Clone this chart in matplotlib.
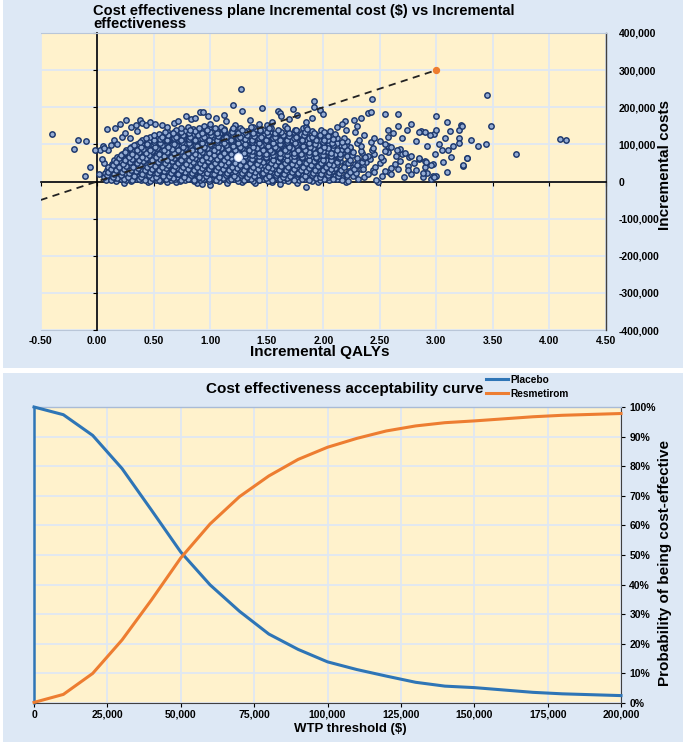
import matplotlib
matplotlib.use('Agg')
import matplotlib.pyplot as plt
from matplotlib.patches import Rectangle
from matplotlib.ticker import FuncFormatter
import numpy as np

plt.rcParams['font.family'] = ['Liberation Sans', 'DejaVu Sans']

# ---------------- data: PSA scatter (incremental QALY, incremental cost in $1000) ----------------
psa_below_zero = "0.24,-4 0.45,-1 0.62,-2 0.70,-1 0.88,-5 0.93,-6 1.00,-10 1.15,-3 1.28,-1 1.40,-3 1.55,-2 1.62,-7 1.77,-4 1.85,-15 1.95,-2 2.20,-1 2.48,-2"

psa_core_low = """
0.08,3 0.13,6 0.17,2 0.21,7 0.26,4 0.30,1 0.34,6 0.39,3 0.43,8 0.47,2 0.52,5 0.56,1 0.60,7 0.65,3 0.69,6 0.73,2 0.78,5 0.82,8 0.86,1 0.91,4 0.95,7 0.99,2 1.04,5 1.08,1 1.12,6 1.17,3 1.21,8 1.25,2 1.30,5 1.34,7 1.38,1 1.43,4 1.47,6 1.51,2 1.56,5 1.60,8 1.65,3 1.69,1 1.74,6 1.79,3 1.84,7 1.90,2 1.97,5 2.05,3 2.12,6 2.22,2 2.31,8 2.47,4 2.95,7
0.06,12 0.11,15 0.15,10 0.19,16 0.24,11 0.28,14 0.32,9 0.37,17 0.41,12 0.45,15 0.50,10 0.54,16 0.58,13 0.63,9 0.67,15 0.71,11 0.76,17 0.80,12 0.84,14 0.89,10 0.93,16 0.97,13 1.02,9 1.06,15 1.10,11 1.15,17 1.19,12 1.23,14 1.28,10 1.32,16 1.36,13 1.41,9 1.45,15 1.49,11 1.54,17 1.58,12 1.63,14 1.67,10 1.72,16 1.76,13 1.81,9 1.86,15 1.92,11 1.98,16 2.04,12 2.10,15 2.17,10 2.26,14 2.36,12 2.52,16 2.71,13 2.88,11 3.00,14
0.07,22 0.12,19 0.16,25 0.20,20 0.25,24 0.29,18 0.33,23 0.38,26 0.42,20 0.46,24 0.51,19 0.55,25 0.59,21 0.64,18 0.68,24 0.72,20 0.77,26 0.81,22 0.85,19 0.90,25 0.94,21 0.98,23 1.03,18 1.07,24 1.11,20 1.16,26 1.20,22 1.24,19 1.29,25 1.33,21 1.37,23 1.42,18 1.46,24 1.50,20 1.55,26 1.59,22 1.64,19 1.68,25 1.73,21 1.77,23 1.82,18 1.87,24 1.93,20 1.99,25 2.06,21 2.13,24 2.20,19 2.29,23 2.40,21 2.58,25 2.78,20 2.92,24
0.09,30 0.14,27 0.18,33 0.22,29 0.27,35 0.31,28 0.35,32 0.40,30 0.44,34 0.48,27 0.53,31 0.57,35 0.61,29 0.66,33 0.70,27 0.74,31 0.79,35 0.83,30 0.87,28 0.92,34 0.96,29 1.00,32 1.05,27 1.09,35 1.13,30 1.18,33 1.22,28 1.26,31 1.31,35 1.35,29 1.39,32 1.44,27 1.48,34 1.52,30 1.57,33 1.61,28 1.66,31 1.70,35 1.75,29 1.79,32 1.84,27 1.89,34 1.95,30 2.01,33 2.08,28 2.15,32 2.23,29 2.33,34 2.44,31 2.55,28 2.66,33 2.82,30
0.10,40 0.16,37 0.20,43 0.24,38 0.29,44 0.33,36 0.37,41 0.42,39 0.46,43 0.50,37 0.55,40 0.59,44 0.63,38 0.68,42 0.72,36 0.76,40 0.81,44 0.85,39 0.89,37 0.94,43 0.98,38 1.02,41 1.07,36 1.11,44 1.15,39 1.20,42 1.24,37 1.28,40 1.33,44 1.37,38 1.41,41 1.46,36 1.50,43 1.54,39 1.59,42 1.63,37 1.68,40 1.72,44 1.77,38 1.81,41 1.86,36 1.91,43 1.97,39 2.03,42 2.10,37 2.18,41 2.26,38 2.35,43 2.46,40 2.60,37 2.75,42 2.90,39
"""

psa_core_mid = """
0.13,48 0.18,45 0.22,51 0.26,47 0.31,53 0.35,46 0.39,50 0.44,48 0.48,52 0.52,45 0.57,49 0.61,53 0.65,47 0.70,51 0.74,45 0.78,49 0.83,53 0.87,48 0.91,46 0.96,52 1.00,47 1.04,50 1.09,45 1.13,53 1.17,48 1.22,51 1.26,46 1.30,49 1.35,53 1.39,47 1.43,50 1.48,45 1.52,52 1.56,48 1.61,51 1.65,46 1.70,49 1.74,53 1.79,47 1.83,50 1.88,45 1.93,52 1.99,48 2.05,51 2.12,46 2.20,50 2.28,47 2.38,52 2.50,49 2.63,46 2.80,51 2.97,48
0.15,57 0.21,55 0.25,60 0.29,56 0.34,62 0.38,54 0.42,59 0.47,57 0.51,61 0.55,54 0.60,58 0.64,62 0.68,56 0.73,60 0.77,54 0.81,58 0.86,62 0.90,57 0.94,55 0.99,61 1.03,56 1.07,59 1.12,54 1.16,62 1.20,57 1.29,55 1.33,62 1.37,56 1.42,60 1.46,54 1.50,58 1.55,61 1.59,56 1.64,60 1.68,55 1.73,59 1.77,62 1.82,56 1.86,60 1.91,54 1.96,61 2.02,57 2.08,60 2.15,55 2.23,59 2.31,56 2.41,61 2.53,58 2.68,55 2.85,60
0.18,66 0.23,63 0.27,69 0.31,65 0.36,71 0.40,64 0.44,68 0.49,66 0.53,70 0.57,63 0.62,67 0.66,71 0.70,65 0.75,69 0.79,63 0.83,67 0.88,71 0.92,66 0.96,64 1.01,70 1.05,65 1.09,68 1.14,63 1.18,71 1.31,69 1.35,64 1.40,70 1.44,66 1.48,63 1.53,69 1.57,65 1.62,71 1.66,67 1.71,64 1.75,70 1.80,66 1.84,69 1.89,63 1.94,68 2.00,65 2.06,70 2.13,66 2.21,69 2.30,64 2.40,68 2.51,65 2.64,70 2.76,66
0.22,75 0.27,73 0.31,78 0.35,74 0.40,80 0.44,72 0.48,77 0.53,75 0.57,79 0.61,72 0.66,76 0.70,80 0.74,74 0.79,78 0.83,72 0.87,76 0.92,80 0.96,75 1.00,73 1.05,79 1.09,74 1.13,77 1.18,72 1.22,80 1.26,75 1.31,78 1.35,73 1.39,76 1.44,80 1.48,74 1.52,77 1.57,72 1.61,79 1.65,75 1.70,78 1.74,73 1.79,76 1.83,80 1.88,74 1.92,77 1.98,72 2.04,79 2.10,75 2.17,78 2.25,73 2.34,77 2.45,74 2.57,79 2.70,75
0.26,84 0.31,82 0.35,87 0.39,83 0.44,89 0.48,81 0.52,86 0.57,84 0.61,88 0.65,81 0.70,85 0.74,89 0.78,83 0.83,87 0.87,81 0.91,85 0.96,89 1.00,84 1.04,82 1.09,88 1.13,83 1.17,86 1.22,81 1.26,89 1.30,84 1.35,87 1.39,82 1.43,85 1.48,89 1.52,83 1.56,86 1.61,81 1.65,88 1.69,84 1.74,87 1.78,82 1.83,85 1.87,89 1.92,83 1.97,86 2.03,81 2.09,88 2.16,84 2.24,87 2.33,82 2.43,86 2.55,83 2.68,88
"""

psa_core_high = """
0.30,93 0.35,91 0.39,96 0.43,92 0.48,98 0.52,90 0.56,95 0.61,93 0.65,97 0.69,90 0.74,94 0.78,98 0.82,92 0.87,96 0.91,90 0.95,94 1.00,98 1.04,93 1.08,91 1.13,97 1.17,92 1.21,95 1.26,90 1.30,98 1.34,93 1.39,96 1.43,91 1.47,94 1.52,98 1.56,92 1.60,95 1.65,90 1.69,97 1.73,93 1.78,96 1.82,91 1.87,94 1.92,98 1.97,92 2.03,95 2.09,90 2.16,97 2.24,93 2.33,96 2.44,91 2.57,95
0.35,102 0.40,100 0.44,105 0.48,101 0.53,107 0.57,99 0.61,104 0.66,102 0.70,106 0.74,99 0.79,103 0.83,107 0.87,101 0.92,105 0.96,99 1.00,103 1.05,107 1.09,102 1.13,100 1.18,106 1.22,101 1.26,104 1.31,99 1.35,107 1.39,102 1.44,105 1.48,100 1.52,103 1.57,107 1.61,101 1.65,104 1.70,99 1.74,106 1.78,102 1.83,105 1.87,100 1.92,103 1.98,107 2.05,101 2.12,104 2.20,99 2.30,103 2.42,106
0.40,111 0.46,109 0.50,114 0.55,110 0.59,116 0.63,108 0.68,113 0.72,111 0.76,115 0.81,108 0.85,112 0.89,116 0.94,110 0.98,114 1.02,108 1.07,112 1.11,116 1.15,111 1.20,109 1.24,115 1.28,110 1.33,113 1.37,108 1.41,116 1.46,111 1.50,114 1.54,109 1.59,112 1.63,116 1.67,110 1.72,113 1.76,108 1.81,115 1.86,111 1.91,114 1.97,109 2.04,112 2.12,116 2.21,110 2.32,113
0.47,120 0.53,118 0.58,123 0.63,119 0.68,125 0.72,117 0.77,122 0.81,120 0.85,124 0.90,117 0.94,121 0.98,125 1.03,119 1.07,123 1.11,117 1.16,121 1.20,125 1.24,120 1.29,118 1.33,124 1.37,119 1.42,122 1.46,117 1.50,125 1.55,120 1.59,123 1.63,118 1.68,121 1.72,125 1.77,119 1.82,122 1.88,117 1.94,124 2.01,120 2.09,123 2.18,118
0.55,129 0.62,127 0.68,132 0.74,128 0.79,134 0.84,126 0.89,131 0.94,129 0.99,133 1.04,126 1.09,130 1.13,134 1.18,128 1.23,132 1.28,126 1.33,130 1.38,134 1.43,129 1.48,127 1.53,133 1.58,128 1.63,131 1.68,126 1.74,134 1.80,129 1.86,132 1.93,127 2.00,131 2.10,128
0.62,137 0.70,140 0.78,136 0.85,142 0.92,138 0.99,144 1.06,136 1.12,141 1.19,139 1.26,145 1.33,137 1.40,142 1.47,138 1.54,144 1.61,136 1.68,141 1.75,139 1.82,143 1.90,137 1.98,140 2.06,136
0.80,148 0.95,150 1.10,147 1.22,151 1.38,148 1.50,152 1.66,149 1.85,147
"""

psa_core_fill_low = """
0.12,5 0.18,9 0.24,6 0.31,3 0.37,8 0.42,5 0.49,9 0.55,4 0.61,7 0.67,10 0.74,4 0.80,7 0.86,3 0.93,9 0.99,6 1.05,4 1.11,9 1.18,6 1.24,10 1.30,4 1.36,8 1.43,5 1.49,9 1.55,3 1.62,7 1.68,10 1.74,5 1.81,8 1.87,4 1.94,9 2.01,6 2.09,8 2.17,5
0.09,18 0.14,13 0.21,17 0.27,12 0.33,16 0.39,13 0.46,18 0.52,12 0.58,16 0.64,14 0.71,19 0.77,13 0.83,17 0.90,12 0.96,16 1.02,19 1.08,13 1.14,17 1.21,14 1.27,18 1.33,12 1.39,16 1.46,19 1.52,14 1.58,17 1.64,12 1.71,16 1.77,19 1.84,14 1.90,17 1.97,13 2.04,18 2.13,14 2.21,17
0.10,26 0.15,21 0.22,25 0.28,22 0.34,27 0.40,21 0.47,25 0.53,22 0.59,27 0.65,23 0.72,21 0.78,26 0.84,22 0.91,27 0.97,24 1.03,21 1.09,26 1.15,22 1.22,27 1.28,23 1.34,21 1.40,26 1.47,22 1.53,27 1.59,23 1.65,21 1.72,26 1.78,22 1.85,27 1.91,23 1.98,21 2.05,26 2.14,22 2.24,26
0.12,35 0.17,30 0.24,34 0.30,31 0.36,36 0.42,30 0.49,34 0.55,31 0.61,36 0.67,32 0.74,30 0.80,35 0.86,31 0.93,36 0.99,33 1.05,30 1.11,35 1.17,31 1.24,36 1.30,32 1.36,30 1.42,35 1.49,31 1.55,36 1.61,32 1.67,30 1.74,35 1.80,31 1.87,36 1.93,32 2.00,30 2.07,35 2.16,31 2.27,35
0.14,44 0.19,39 0.26,43 0.32,40 0.38,45 0.44,39 0.51,43 0.57,40 0.63,45 0.69,41 0.76,39 0.82,44 0.88,40 0.95,45 1.01,42 1.07,39 1.13,44 1.19,40 1.26,45 1.32,41 1.38,39 1.44,44 1.51,40 1.57,45 1.63,41 1.69,39 1.76,44 1.82,40 1.89,45 1.95,41 2.02,39 2.09,44 2.18,40 2.30,44
"""

psa_core_fill_mid = """
0.17,53 0.23,48 0.29,52 0.35,49 0.41,54 0.47,48 0.54,52 0.60,49 0.66,54 0.72,50 0.79,48 0.85,53 0.91,49 0.98,54 1.04,51 1.10,48 1.16,53 1.22,49 1.29,54 1.35,50 1.41,48 1.47,53 1.54,49 1.60,54 1.66,50 1.72,48 1.79,53 1.85,49 1.92,54 1.98,50 2.05,48 2.12,53 2.22,49 2.34,53
0.19,62 0.25,57 0.31,61 0.37,58 0.43,63 0.49,57 0.56,61 0.62,58 0.68,63 0.74,59 0.81,57 0.87,62 0.93,58 1.00,63 1.06,60 1.12,57 1.18,62 1.37,61 1.43,57 1.49,62 1.56,58 1.62,63 1.68,59 1.74,57 1.81,62 1.87,58 1.94,63 2.00,59 2.07,57 2.14,62 2.24,58 2.36,62
0.21,71 0.28,66 0.34,70 0.40,67 0.46,72 0.52,66 0.59,70 0.65,67 0.71,72 0.77,68 0.84,66 0.90,71 0.96,67 1.03,72 1.09,69 1.15,66 1.37,72 1.43,68 1.49,66 1.56,71 1.62,67 1.68,72 1.74,68 1.81,66 1.87,71 1.94,67 2.00,72 2.07,68 2.15,66 2.25,71 2.37,67
0.25,80 0.31,75 0.37,79 0.43,76 0.49,81 0.55,75 0.62,79 0.68,76 0.74,81 0.80,77 0.87,75 0.93,80 0.99,76 1.06,81 1.12,78 1.18,75 1.24,80 1.30,76 1.37,81 1.43,77 1.49,75 1.55,80 1.62,76 1.68,81 1.74,77 1.80,75 1.87,80 1.93,76 2.00,81 2.07,77 2.15,75 2.26,80
0.29,89 0.35,84 0.41,88 0.47,85 0.53,90 0.59,84 0.66,88 0.72,85 0.78,90 0.84,86 0.91,84 0.97,89 1.03,85 1.10,90 1.16,87 1.22,84 1.28,89 1.34,85 1.41,90 1.47,86 1.53,84 1.59,89 1.66,85 1.72,90 1.78,86 1.84,84 1.91,89 1.97,85 2.04,90 2.12,86 2.21,84
"""

psa_core_fill_high = """
0.33,98 0.39,93 0.45,97 0.51,94 0.57,99 0.63,93 0.70,97 0.76,94 0.82,99 0.88,95 0.95,93 1.01,98 1.07,94 1.14,99 1.20,96 1.26,93 1.32,98 1.38,94 1.45,99 1.51,95 1.57,93 1.63,98 1.70,94 1.76,99 1.82,95 1.88,93 1.95,98 2.01,94 2.09,99 2.18,95
0.38,107 0.44,102 0.50,106 0.56,103 0.62,108 0.68,102 0.75,106 0.81,103 0.87,108 0.93,104 1.00,102 1.06,107 1.12,103 1.19,108 1.25,105 1.31,102 1.37,107 1.43,103 1.50,108 1.56,104 1.62,102 1.68,107 1.75,103 1.81,108 1.87,104 1.93,102 2.00,107 2.08,103 2.17,107
0.43,116 0.50,111 0.56,115 0.62,112 0.68,117 0.74,111 0.81,115 0.87,112 0.93,117 0.99,113 1.06,111 1.12,116 1.18,112 1.25,117 1.31,114 1.37,111 1.43,116 1.49,112 1.56,117 1.62,113 1.68,111 1.74,116 1.81,112 1.87,117 1.94,113 2.01,111 2.09,115
0.50,125 0.57,120 0.63,124 0.70,121 0.76,126 0.82,120 0.89,124 0.95,121 1.01,126 1.07,122 1.14,120 1.20,125 1.26,121 1.33,126 1.39,123 1.45,120 1.51,125 1.57,121 1.64,126 1.70,122 1.76,120 1.83,125 1.90,121 1.97,126 2.04,122
0.60,134 0.67,130 0.74,133 0.81,131 0.87,135 0.93,130 1.00,134 1.06,131 1.12,135 1.19,132 1.25,130 1.31,134 1.38,131 1.44,135 1.50,132 1.57,130 1.63,134 1.70,131 1.77,135 1.84,132 1.92,130 2.01,134
0.74,143 0.82,139 0.90,144 0.97,140 1.04,145 1.12,138 1.20,143 1.28,140 1.36,146 1.44,139 1.52,144 1.60,140 1.68,145 1.76,139 1.86,142
"""

psa_halo = """
0.09,142 0.16,143 0.20,155 0.26,167 0.38,165 0.40,158 0.30,146 0.34,151 0.22,121 0.15,111 0.12,99 0.05,95 0.10,86 0.18,101 0.25,131 0.29,118 0.35,136 0.43,151 0.47,161 0.51,156 0.57,152 0.62,147 0.68,158 0.72,163 0.79,176 0.83,168 0.87,170 0.91,188 0.94,186 0.98,176 1.05,172 1.12,180 1.14,162 1.00,155 1.20,207 1.27,248 1.28,190 1.35,166 1.43,156 1.46,198 1.55,161 1.60,190 1.62,185 1.63,176 1.70,168 1.73,195 1.77,180 1.85,161 1.90,171 1.92,216 1.92,202 1.97,192 2.00,183 2.12,146 2.19,162 2.27,165 2.33,170 2.40,185 2.43,222 2.42,187 2.55,183 2.66,181 2.78,156 2.57,138 2.57,120 2.86,137 2.90,133
"""

psa_right_tail = """
2.20,140 2.28,132 2.36,125 2.45,118 2.50,110 2.55,100 2.60,92 2.65,85 2.72,78 2.78,70 2.85,62 2.90,55 2.95,45 2.35,35 2.45,25 2.60,20 2.75,30 2.88,22 2.62,130 2.70,118 2.82,108 2.92,95 3.02,102 3.08,118 2.98,128 2.74,140 2.66,150 2.30,150 2.17,155 3.10,85 3.15,95 3.00,176 3.09,160 3.22,151 3.20,138 3.12,137 3.00,140 2.85,133 2.94,125 2.99,75 3.09,25 2.97,16 2.98,12 3.05,84 3.13,66 3.27,64 3.24,43 3.06,52 2.91,52
"""

psa_outliers = """
3.45,232 3.48,150 3.23,150 3.31,113 3.37,95 3.44,100 3.27,62 3.24,45 3.70,75 4.09,114 4.15,111 3.20,118 3.20,105 -0.40,127 -0.17,113 -0.10,108 -0.20,87 -0.06,40 -0.11,15 0.06,49 0.03,86 0.06,91 -0.02,85 0.02,20 0.04,60
"""

mean_qaly = [1.25]
mean_cost = [65000]

wtp_line_qaly = [-0.5, 3.0]
wtp_line_cost = [-50000, 300000]

qaly_ticks = [-0.5, 0.0, 0.5, 1.0, 1.5, 2.0, 2.5, 3.0, 3.5, 4.0, 4.5]
cost_ticks = [-400000, -300000, -200000, -100000, 0, 100000, 200000, 300000, 400000]

# ---------------- data: CEAC ----------------
wtp = [0, 10000, 20000, 30000, 40000, 50000, 60000, 70000, 80000, 90000, 100000,
       110000, 120000, 130000, 140000, 150000, 160000, 170000, 180000, 190000, 200000]
placebo = [100, 97.4, 90.4, 79.2, 65.2, 51.0, 39.9, 31.0, 23.3, 18.1, 13.9,
           11.3, 9.1, 7.0, 5.7, 5.2, 4.4, 3.6, 3.1, 2.8, 2.5]
resmetirom = [0.2, 2.9, 10.0, 21.3, 34.8, 49.0, 60.5, 69.7, 76.7, 82.3, 86.4,
              89.4, 91.9, 93.6, 94.7, 95.3, 96.0, 96.7, 97.2, 97.5, 97.8]
wtp_ticks = [0, 25000, 50000, 75000, 100000, 125000, 150000, 175000, 200000]
prob_ticks = [0, 10, 20, 30, 40, 50, 60, 70, 80, 90, 100]


def parse(txt):
    return [tuple(float(v) for v in tok.split(',')) for tok in txt.split()]

all_pts = []
for block in [psa_below_zero, psa_core_low, psa_core_mid, psa_core_high,
              psa_core_fill_low, psa_core_fill_mid, psa_core_fill_high,
              psa_halo, psa_right_tail, psa_outliers]:
    all_pts += parse(block)
psa_q = np.array([p[0] for p in all_pts])
psa_c = np.array([p[1] for p in all_pts]) * 1000

# ---------------- styling ----------------
panel_bg = '#dde8f5'
face = '#fff2cc'
grid_c = '#dfe8f3'
dark = '#404040'
light_border = '#b9c6d8'
blue = '#2e75b6'
orange = '#ed7d31'

W, H = 685, 742
fig = plt.figure(figsize=(W / 100, H / 100), dpi=100)
fig.patch.set_facecolor('white')
fig.add_artist(Rectangle((3 / W, 1 - 368 / H), 680 / W, 368 / H, transform=fig.transFigure,
                         facecolor=panel_bg, edgecolor='none', zorder=0))
fig.add_artist(Rectangle((3 / W, 0), 680 / W, 1 - 373 / H, transform=fig.transFigure,
                         facecolor=panel_bg, edgecolor='none', zorder=0))

# ---------------- top: cost-effectiveness plane ----------------
ax1 = fig.add_axes([40.5 / W, 1 - 330 / H, 565.5 / W, 297 / H])
ax1.set_facecolor(face)
ax1.set_xlim(-0.5, 4.5)
ax1.set_ylim(-400000, 400000)
ax1.set_xticks(qaly_ticks)
ax1.set_yticks(cost_ticks)
ax1.grid(True, color=grid_c, linewidth=1.3, zorder=0)
ax1.set_axisbelow(True)

ax1.spines['left'].set_position(('data', 0))
ax1.spines['bottom'].set_position(('data', 0))
for s in ['left', 'bottom']:
    ax1.spines[s].set_color('black')
    ax1.spines[s].set_linewidth(1.2)
ax1.spines['right'].set_color(dark)
ax1.spines['right'].set_linewidth(1.0)
ax1.spines['top'].set_color(light_border)
ax1.spines['top'].set_linewidth(0.8)

ax1.tick_params(axis='x', bottom=True, labelbottom=False, direction='out', length=3, width=0.8)
ax1.tick_params(axis='y', left=True, right=False, labelleft=False, labelright=True,
                direction='out', length=3, width=0.8, pad=6, labelsize=7.5)
ax1.yaxis.set_major_formatter(FuncFormatter(lambda v, p: f"{int(v):,}"))
for lab in ax1.get_yticklabels():
    lab.set_fontweight('bold')

sec = ax1.secondary_xaxis('bottom')
sec.set_xticks(qaly_ticks)
sec.set_xticklabels([f"{t:.2f}" for t in qaly_ticks], fontsize=7.5, fontweight='bold')
sec.tick_params(length=0, pad=4)
sec.spines['bottom'].set_color(light_border)
sec.spines['bottom'].set_linewidth(0.8)

ax1.scatter(psa_q, psa_c, s=15, facecolor='#94acd4', edgecolor='#1c376c', linewidths=1.05, zorder=3)
ax1.plot(wtp_line_qaly, wtp_line_cost, color='#222222', linestyle=(0, (4, 3)), linewidth=1.3, zorder=4)
ax1.scatter([wtp_line_qaly[-1]], [wtp_line_cost[-1]], s=18, color=orange, zorder=5)
ax1.scatter(mean_qaly, mean_cost, s=30, facecolor='white', edgecolor='#d8e6ff', linewidths=0.8, zorder=6)

fig.text(93 / W, 1 - 10.5 / H, "Cost effectiveness plane Incremental cost ($) vs Incremental",
         ha='left', va='center', fontsize=10.5, fontweight='bold')
fig.text(93 / W, 1 - 24 / H, "effectiveness",
         ha='left', va='center', fontsize=10.5, fontweight='bold')
fig.text(320 / W, 1 - 352 / H, "Incremental QALYs", ha='center', va='center', fontsize=11, fontweight='bold')
fig.text(665 / W, 1 - 165 / H, "Incremental costs", ha='center', va='center', rotation=90,
         fontsize=11, fontweight='bold')

# ---------------- bottom: CEAC ----------------
ax2 = fig.add_axes([34 / W, 1 - 703 / H, 587 / W, 296 / H])
ax2.set_facecolor(face)
ax2.set_xlim(0, 200000)
ax2.set_ylim(0, 100)
ax2.set_xticks(wtp_ticks)
ax2.set_yticks(prob_ticks)
ax2.grid(True, color=grid_c, linewidth=1.3, zorder=0)
ax2.set_axisbelow(True)
ax2.spines['left'].set_color(blue)
ax2.spines['left'].set_linewidth(1.8)
ax2.spines['top'].set_color('#a9bbd6')
ax2.spines['top'].set_linewidth(1.0)
ax2.spines['right'].set_color(dark)
ax2.spines['bottom'].set_color(dark)
ax2.tick_params(axis='x', direction='out', length=3, width=0.8, labelsize=7.5, pad=2)
ax2.tick_params(axis='y', left=False, right=True, labelleft=False, labelright=True,
                direction='out', length=3, width=0.8, labelsize=7.5, pad=3)
ax2.xaxis.set_major_formatter(FuncFormatter(lambda v, p: f"{int(v):,}"))
ax2.yaxis.set_major_formatter(FuncFormatter(lambda v, p: f"{int(v)}%"))
for lab in ax2.get_xticklabels() + ax2.get_yticklabels():
    lab.set_fontweight('bold')

l1, = ax2.plot(wtp, placebo, color=blue, linewidth=2.2, label='Placebo', zorder=3, clip_on=False)
l2, = ax2.plot(wtp, resmetirom, color=orange, linewidth=2.2, label='Resmetirom', zorder=3, clip_on=False)

fig.text(345 / W, 1 - 389 / H, "Cost effectiveness acceptability curve", ha='center', va='center',
         fontsize=11, fontweight='bold')
fig.legend(handles=[l1, l2], loc='upper left', bbox_to_anchor=(486 / W, 1 - 375 / H),
           frameon=False, prop={'weight': 'bold', 'size': 7.3},
           handlelength=2.2, handletextpad=0.25, labelspacing=0.35, borderaxespad=0, borderpad=0)
fig.text(350 / W, 1 - 729 / H, "WTP threshold ($)", ha='center', va='center', fontsize=9.5, fontweight='bold')
fig.text(665 / W, 1 - 563 / H, "Probability of being cost-effective", ha='center', va='center', rotation=90,
         fontsize=11, fontweight='bold')

fig.savefig('out.png', dpi=100, facecolor=fig.get_facecolor())
